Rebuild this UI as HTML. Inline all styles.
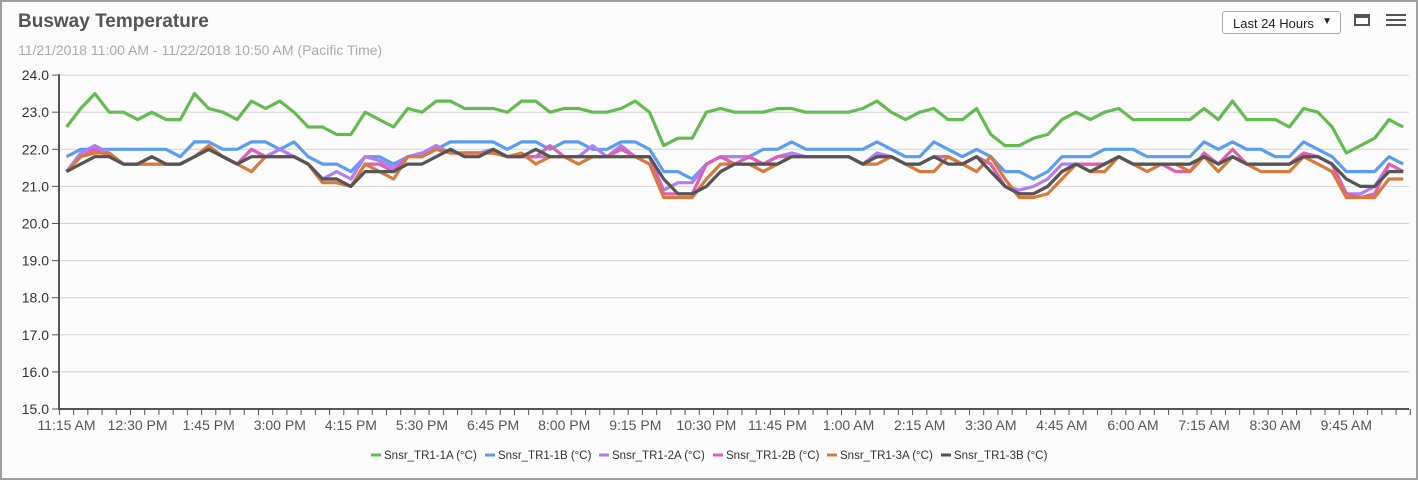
<!DOCTYPE html>
<html><head><meta charset="utf-8">
<style>
html,body{margin:0;padding:0;background:#fff;}
#frame{position:absolute;left:0;top:0;width:1414px;height:476px;border:2px solid #a0a0a0;background:#fcfcfc;font-family:"Liberation Sans",Arial,sans-serif;overflow:hidden;}
#title{position:absolute;left:16px;top:9px;font-size:19px;font-weight:bold;color:#555;}
#sub{position:absolute;left:16px;top:40px;font-size:14px;color:#aaa;}
#sel{position:absolute;left:1220px;top:9px;width:119px;height:23px;border:1px solid #aaa;border-radius:3px;background:#fff;font-size:13px;color:#222;box-sizing:border-box;padding:4px 0 0 10px;}
#sel span{position:absolute;right:8px;top:4px;font-size:10px;}
#win{position:absolute;left:1352px;top:12px;width:16px;height:12px;border:2px solid #555;border-top-width:4px;box-sizing:border-box;}
#menu{position:absolute;left:1384px;top:12px;width:20px;}
#menu div{height:2px;background:#555;margin-bottom:3px;}
svg{position:absolute;left:0;top:0;}
</style></head><body>
<div id="frame">
<div id="title">Busway Temperature</div>
<div id="sub">11/21/2018 11:00 AM - 11/22/2018 10:50 AM (Pacific Time)</div>
<div id="sel">Last 24 Hours<span>▼</span></div>
<div id="win"></div>
<div id="menu"><div></div><div></div><div></div></div>
<svg id="chart" width="1414" height="476"></svg>
</div>
<script>
const yTicks=[24,23,22,21,20,19,18,17,16,15];
const xLabels=["11:15 AM","12:30 PM","1:45 PM","3:00 PM","4:15 PM","5:30 PM","6:45 PM","8:00 PM","9:15 PM","10:30 PM","11:45 PM","1:00 AM","2:15 AM","3:30 AM","4:45 AM","6:00 AM","7:15 AM","8:30 AM","9:45 AM"];
const seriesNames=["Snsr_TR1-1A (°C)","Snsr_TR1-1B (°C)","Snsr_TR1-2A (°C)","Snsr_TR1-2B (°C)","Snsr_TR1-3A (°C)","Snsr_TR1-3B (°C)"];
const s1A=[22.6,23.1,23.5,23.0,23.0,22.8,23.0,22.8,22.8,23.5,23.1,23.0,22.8,23.3,23.1,23.3,23.0,22.6,22.6,22.4,22.4,23.0,22.8,22.6,23.1,23.0,23.3,23.3,23.1,23.1,23.1,23.0,23.3,23.3,23.0,23.1,23.1,23.0,23.0,23.1,23.3,23.0,22.1,22.3,22.3,23.0,23.1,23.0,23.0,23.0,23.1,23.1,23.0,23.0,23.0,23.0,23.1,23.3,23.0,22.8,23.0,23.1,22.8,22.8,23.1,22.4,22.1,22.1,22.3,22.4,22.8,23.0,22.8,23.0,23.1,22.8,22.8,22.8,22.8,22.8,23.1,22.8,23.3,22.8,22.8,22.8,22.6,23.1,23.0,22.6,21.9,22.1,22.3,22.8,22.6];
const s1B=[21.8,22.0,22.0,22.0,22.0,22.0,22.0,22.0,21.8,22.2,22.2,22.0,22.0,22.2,22.2,22.0,22.2,21.8,21.6,21.6,21.4,21.8,21.8,21.6,21.8,21.9,22.0,22.2,22.2,22.2,22.2,22.0,22.2,22.2,22.0,22.2,22.2,22.0,22.0,22.2,22.2,22.0,21.4,21.4,21.2,21.6,21.8,21.8,21.8,22.0,22.0,22.2,22.0,22.0,22.0,22.0,22.0,22.2,22.0,21.8,21.8,22.2,22.0,21.8,22.0,21.8,21.4,21.4,21.2,21.4,21.8,21.8,21.8,22.0,22.0,22.0,21.8,21.8,21.8,21.8,22.2,22.0,22.2,22.0,22.0,21.8,21.8,22.2,22.0,21.8,21.4,21.4,21.4,21.8,21.6];
const s2A=[21.4,21.9,22.1,21.9,21.6,21.6,21.6,21.6,21.6,21.8,22.0,21.8,21.6,22.0,21.8,22.0,21.8,21.6,21.2,21.4,21.2,21.8,21.7,21.5,21.8,21.9,22.1,21.9,21.9,21.9,22.0,21.8,21.8,21.8,21.8,21.8,21.8,22.1,21.8,22.1,21.8,21.8,20.9,21.1,21.1,21.6,21.8,21.8,21.8,21.6,21.8,21.9,21.8,21.8,21.8,21.8,21.6,21.9,21.8,21.6,21.6,21.8,21.8,21.6,21.8,21.6,21.0,20.9,21.0,21.2,21.6,21.6,21.6,21.6,21.8,21.6,21.6,21.6,21.6,21.6,21.8,21.6,21.8,21.6,21.6,21.6,21.6,21.8,21.8,21.6,20.8,20.8,21.0,21.6,21.4];
const s2B=[21.4,21.8,22.0,21.8,21.6,21.6,21.8,21.6,21.6,21.8,22.0,21.8,21.6,22.0,21.8,21.8,21.8,21.6,21.2,21.2,21.0,21.6,21.6,21.4,21.8,21.8,22.0,21.9,21.9,21.9,21.9,21.8,21.8,21.8,22.1,21.8,21.8,21.8,21.8,22.0,21.8,21.8,20.8,20.8,20.8,21.6,21.8,21.6,21.8,21.6,21.8,21.8,21.8,21.8,21.8,21.8,21.6,21.8,21.8,21.6,21.6,21.8,21.8,21.6,21.8,21.6,21.0,20.8,20.8,21.0,21.4,21.6,21.6,21.6,21.8,21.6,21.6,21.6,21.4,21.4,21.9,21.6,22.0,21.6,21.6,21.6,21.6,21.9,21.8,21.6,20.8,20.7,20.8,21.6,21.4];
const s3A=[21.4,21.8,21.9,21.9,21.6,21.6,21.6,21.6,21.6,21.8,22.1,21.8,21.6,21.4,21.8,21.8,21.8,21.6,21.1,21.1,21.0,21.6,21.4,21.2,21.8,21.8,22.0,21.9,21.9,21.9,21.9,21.8,21.9,21.6,21.8,21.8,21.6,21.8,21.8,21.8,21.8,21.6,20.7,20.7,20.7,21.2,21.6,21.6,21.6,21.4,21.6,21.8,21.8,21.8,21.8,21.8,21.6,21.6,21.8,21.6,21.4,21.4,21.8,21.6,21.4,21.8,21.2,20.7,20.7,20.8,21.2,21.6,21.4,21.4,21.8,21.6,21.4,21.6,21.6,21.4,21.8,21.4,21.8,21.6,21.4,21.4,21.4,21.8,21.6,21.4,20.7,20.7,20.7,21.2,21.2];
const s3B=[21.4,21.6,21.8,21.8,21.6,21.6,21.8,21.6,21.6,21.8,22.0,21.8,21.6,21.8,21.8,21.8,21.8,21.6,21.2,21.2,21.0,21.4,21.4,21.4,21.6,21.6,21.8,22.0,21.8,21.8,22.0,21.8,21.8,22.0,21.8,21.8,21.8,21.8,21.8,21.8,21.8,21.8,21.2,20.8,20.8,21.0,21.4,21.6,21.6,21.6,21.6,21.8,21.8,21.8,21.8,21.8,21.6,21.8,21.8,21.6,21.6,21.8,21.6,21.6,21.8,21.4,21.0,20.8,20.8,21.0,21.4,21.6,21.4,21.6,21.8,21.6,21.6,21.6,21.6,21.6,21.8,21.6,21.8,21.6,21.6,21.6,21.6,21.8,21.8,21.6,21.2,21.0,21.0,21.4,21.4];
const colors=["#63bb52","#5b9df0","#b07ef2","#df5fb4","#d87a3c","#555555"];
const allSeries=[s1A,s1B,s2A,s2B,s3A,s3B];

const svg=document.getElementById('chart');
const NS='http://www.w3.org/2000/svg';
const X0=64.5,DX=14.22,Y15=407,YPU=37.1;
const xs=i=>X0+DX*i;
const ys=v=>Y15-(v-15)*YPU;
function mk(t,a){const e=document.createElementNS(NS,t);for(const k in a)e.setAttribute(k,a[k]);svg.appendChild(e);return e;}
yTicks.forEach(v=>{
  if(v>15){const g=mk('line',{x1:58,x2:1407,y1:ys(v),y2:ys(v),stroke:'#d4d4d4','stroke-width':1});
  
  }
  mk('line',{x1:50,x2:57,y1:ys(v),y2:ys(v),stroke:'#555','stroke-width':1});
  const t=mk('text',{x:47,y:ys(v)+5,'text-anchor':'end','font-size':14,fill:'#333','font-family':'Liberation Sans, sans-serif'});
  t.textContent=v.toFixed(1);
  
  
});
const ya=mk('line',{x1:57,x2:57,y1:ys(24)-1,y2:Y15+1,stroke:'#555','stroke-width':2});


const xa=mk('line',{x1:56,x2:1407,y1:Y15,y2:Y15,stroke:'#555','stroke-width':2});


for(let i=0;i<=s1A.length;i++){const x=xs(i)-7.1;mk('line',{x1:x,x2:x,y1:Y15,y2:Y15+6,stroke:'#555','stroke-width':1});}
xLabels.forEach((l,k)=>{
  const t=mk('text',{x:xs(k*5),y:Y15+21,'text-anchor':'middle','font-size':14,fill:'#555','font-family':'Liberation Sans, sans-serif'});
  t.textContent=l;
  
  
});
allSeries.forEach((s,k)=>{
  const p=mk('polyline',{points:s.map((v,i)=>xs(i).toFixed(1)+','+ys(v).toFixed(1)).join(' '),fill:'none',stroke:colors[k],'stroke-width':3.2,'stroke-linejoin':'round'});
  
  
});
const lw=[114,114,114,114,114,104];let lx=369;
seriesNames.forEach((n,k)=>{
  mk('line',{x1:lx,x2:lx+10,y1:453,y2:453,stroke:colors[k],'stroke-width':3});
  const t=mk('text',{x:lx+13,y:457,'font-size':11.5,fill:'#333','font-family':'Liberation Sans, sans-serif'});
  t.textContent=n;
  
  
  lx+=lw[k];
});
</script>
</body></html>
